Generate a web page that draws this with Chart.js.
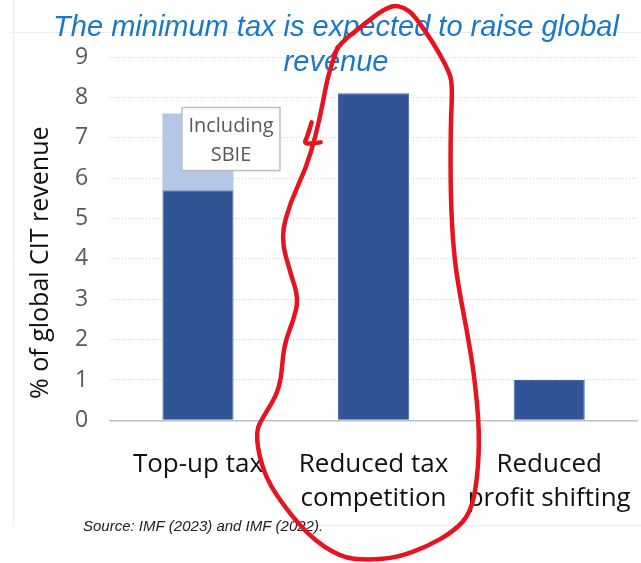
<!DOCTYPE html>
<html>
<head>
<meta charset="utf-8">
<script src="https://cdn.jsdelivr.net/npm/chart.js@4.4.1/dist/chart.umd.min.js"></script>
<style>
  html, body { margin: 0; padding: 0; background: #ffffff; }
  #wrap { width: 641px; height: 563px; position: relative; }
</style>
</head>
<body>
<div id="wrap"><canvas id="chart" width="641" height="563"></canvas></div>
<script>
// data
const categories = ["Top-up tax", ["Reduced tax", "competition"], ["Reduced", "profit shifting"]];
const baseValues = [5.7, 8.1, 1.0];
const sbieValues = [1.9, 0, 0];
const yTicks = [0, 1, 2, 3, 4, 5, 6, 7, 8, 9];
const titleLines = ["The minimum tax is expected to raise global", "revenue"];
const calloutLines = ["Including", "SBIE"];
const yTitle = "% of global CIT revenue";
const sourceNote = "Source: IMF (2023) and IMF (2022).";

const DARK = "#2f5597";
const LIGHT = "#b4c7e7";

// hand drawn red loop, offsets from the middle bar's foot
const loop = [
    [-36,-373],[-45,-348],[-51,-316],[-58,-284],[-68,-251],[-83,-219],[-93,-183],
    [-83,-147],[-75,-122],[-80,-100],[-90,-75],[-93,-32],[-110,-4],[-118,11],
    [-113,43],[-100,72],[-66,115],[-33,137],[-6,140],[24,137],[54,126],[80,111],
    [97,93],[104,58],[106,11],[101,-43],[94,-86],[85,-133],[80,-169],[77,-223],
    [77,-294],[79,-337],[74,-352],[60,-377],[40,-406],[30,-413],[20,-415],[7,-409],
    [-16,-391],[-33,-377],[-40,-365]
];
const hook = [[-62,-298],[-66,-284],[-70,-276],[-53,-278]];

function smoothPath(ctx, pts) {
    ctx.beginPath();
    ctx.moveTo(pts[0][0], pts[0][1]);
    for (let i = 1; i < pts.length - 1; i++) {
        let mx = (pts[i][0] + pts[i + 1][0]) / 2;
        let my = (pts[i][1] + pts[i + 1][1]) / 2;
        ctx.quadraticCurveTo(pts[i][0], pts[i][1], mx, my);
    }
    let last = pts[pts.length - 1];
    ctx.lineTo(last[0], last[1]);
    ctx.stroke();
}

const decorations = {
    id: 'decorations',
    beforeDraw(chart) {
        const ctx = chart.ctx;
        ctx.save();
        ctx.fillStyle = '#ffffff';
        ctx.fillRect(0, 0, chart.width, chart.height);
        // faint slide guide lines
        ctx.strokeStyle = '#ececec';
        ctx.lineWidth = 1;
        ctx.beginPath();
        ctx.moveTo(10, 32.5); ctx.lineTo(chart.width, 32.5);
        ctx.moveTo(80, 525.5); ctx.lineTo(chart.width, 525.5);
        ctx.moveTo(13.5, 0); ctx.lineTo(13.5, 525);
        ctx.stroke();
        ctx.restore();
    },
    afterDraw(chart) {
        const ctx = chart.ctx;
        const meta0 = chart.getDatasetMeta(0);
        const meta1 = chart.getDatasetMeta(1);
        const area = chart.chartArea;
        ctx.save();

        // y axis title, sits a bit low like the original
        ctx.save();
        ctx.translate(41, area.top + (area.bottom - area.top) / 2 + 24);
        ctx.rotate(-Math.PI / 2);
        ctx.fillStyle = '#111111';
        ctx.font = '25px "Open Sans"';
        ctx.textAlign = 'center';
        ctx.textBaseline = 'middle';
        ctx.fillText(yTitle, 0, 0);
        ctx.restore();

        // callout box next to the first bar
        const top = meta1.data[0];
        const bx = top.x - 16, by = top.y - 6, bw = 98, bh = 63;
        ctx.fillStyle = '#ffffff';
        ctx.fillRect(bx, by, bw, bh);
        ctx.strokeStyle = '#bfbfbf';
        ctx.lineWidth = 1.5;
        ctx.strokeRect(bx, by, bw, bh);
        ctx.fillStyle = '#595959';
        ctx.font = '20px "Open Sans"';
        ctx.textAlign = 'center';
        ctx.textBaseline = 'middle';
        calloutLines.forEach((t, i) => ctx.fillText(t, bx + bw / 2, by + 19 + i * 29));

        // title
        ctx.fillStyle = '#1a78c8';
        ctx.font = 'italic 29px "Liberation Sans"';
        titleLines.forEach((t, i) => ctx.fillText(t, 336, 28 + i * 35));

        // source
        ctx.fillStyle = '#222222';
        ctx.font = 'italic 15px "Liberation Sans"';
        ctx.textAlign = 'left';
        ctx.fillText(sourceNote, 83, 527);

        // red freehand loop around the middle bar
        const mid = meta0.data[1];
        const ox = mid.x, oy = chart.scales.y.getPixelForValue(0);
        ctx.strokeStyle = '#e5141f';
        ctx.lineWidth = 4.5;
        ctx.lineCap = 'round';
        ctx.lineJoin = 'round';
        smoothPath(ctx, loop.map(p => [ox + p[0], oy + p[1]]));
        smoothPath(ctx, hook.map(p => [ox + p[0], oy + p[1]]));
        ctx.restore();
    }
};

new Chart(document.getElementById('chart'), {
    type: 'bar',
    data: {
        labels: categories,
        datasets: [
            { label: 'Top-up', data: baseValues, backgroundColor: DARK, borderColor: '#4a6aa5', borderWidth: 1 },
            { label: 'SBIE', data: sbieValues, backgroundColor: LIGHT, borderWidth: 0 }
        ]
    },
    options: {
        responsive: false,
        animation: false,
        layout: { padding: { top: 57, left: 53, right: 4, bottom: 28 } },
        plugins: {
            legend: { display: false },
            tooltip: { enabled: false },
            title: { display: false }
        },
        datasets: { bar: { categoryPercentage: 1, barPercentage: 0.405 } },
        scales: {
            x: {
                stacked: true,
                afterFit: (scale) => { scale.paddingRight = 0; scale.paddingLeft = 0; },
                grid: { display: false },
                border: { display: true, color: '#bfbfbf', width: 1.5 },
                ticks: {
                    color: '#111111',
                    font: { family: 'Open Sans', size: 26, lineHeight: 1.32 },
                    padding: 19,
                    maxRotation: 0,
                    autoSkip: false
                }
            },
            y: {
                stacked: true,
                min: yTicks[0],
                max: yTicks[yTicks.length - 1],
                afterBuildTicks: (scale) => { scale.ticks = yTicks.map(v => ({ value: v })); },
                grid: {
                    color: '#d0d0d0',
                    drawTicks: false,
                    lineWidth: 1
                },
                border: { display: false, dash: [1, 2] },
                ticks: {
                    color: '#595959',
                    font: { family: 'Open Sans', size: 23 },
                    padding: 22
                }
            }
        }
    },
    plugins: [decorations]
});
</script>
</body>
</html>
